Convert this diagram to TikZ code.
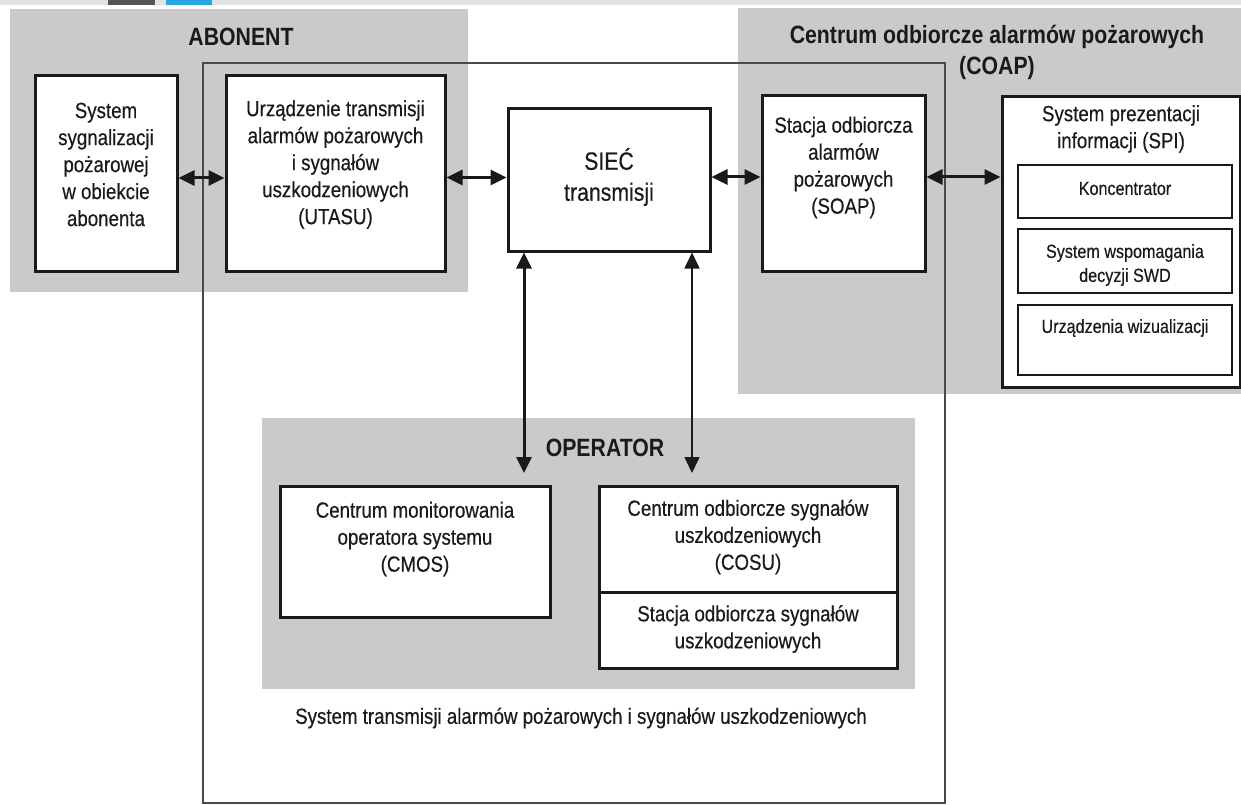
\documentclass[tikz,border=0pt]{standalone}
\usepackage{fontspec}
\setmainfont{Liberation Sans}[FakeStretch=0.85,UprightFeatures={FakeBold=0.4}]
\usetikzlibrary{arrows.meta}
\definecolor{panel}{HTML}{C9CACC}
\definecolor{ink}{HTML}{1A1A1A}
\definecolor{framegray}{HTML}{4A4A4A}
\definecolor{tabdark}{HTML}{555555}
\definecolor{tabblue}{HTML}{2AA7E3}
\definecolor{stripgray}{HTML}{E3E3E3}

\begin{document}
\begin{tikzpicture}[x=1pt,y=-1pt,
  area/.style={fill=panel,draw=none,inner sep=0pt},
  box/.style={draw=ink,line width=3pt,fill=white,inner sep=0pt},
  subbox/.style={draw=ink,line width=2.6pt,fill=white,inner sep=0pt},
  txt/.style={align=center,text=ink,font=\fontsize{22}{27}\selectfont,inner sep=0pt},
  small/.style={align=center,text=ink,font=\fontsize{19}{24}\selectfont,inner sep=0pt},
  head/.style={align=center,text=ink,font=\bfseries\fontsize{25}{31}\selectfont,inner sep=0pt},
  link/.style={draw=ink,line width=3pt,{Triangle[length=16pt,width=15pt]}-{Triangle[length=16pt,width=15pt]}},
  ]
% canvas
\fill[white] (0,0) rectangle (1241,805);
\useasboundingbox (0,0) rectangle (1241,805);
\fill[stripgray] (0,0) rectangle (1241,5);
\fill[tabdark] (108,0) rectangle (155,5);
\fill[tabblue] (166,0) rectangle (212,5);

% grey areas
\node[area,minimum width=458pt,minimum height=283pt] (abonent) at (239,150.5) {};
\node[area,minimum width=503pt,minimum height=385pt] (coap) at (989.5,201) {};
\node[area,minimum width=653pt,minimum height=271pt] (operator) at (588.5,553.5) {};

% frame of the transmission system
\node[draw=framegray,line width=2.8pt,inner sep=0pt,minimum width=742pt,minimum height=740pt] (frame) at (574,433) {};

% area titles
\node[head] (abonent-t) at (241,37) {ABONENT};
\node[head] (coap-t) at (997,52) {Centrum odbiorcze alarmów pożarowych\\(COAP)};
\node[head] (operator-t) at (605,448) {OPERATOR};

% boxes
\node[box,minimum width=142pt,minimum height=195pt] (sys) at (106,173.5) {};
\node[box,minimum width=219pt,minimum height=195pt] (utasu) at (335.5,173.5) {};
\node[box,minimum width=202pt,minimum height=142pt] (siec) at (609,180) {};
\node[box,minimum width=163pt,minimum height=175pt] (soap) at (843.5,183.5) {};
\node[box,minimum width=238pt,minimum height=290pt] (spi) at (1121,242) {};
\node[subbox,minimum width=214pt,minimum height=53pt] (konc) at (1125,191.5) {};
\node[subbox,minimum width=214pt,minimum height=64pt] (swd) at (1125,261) {};
\node[subbox,minimum width=214pt,minimum height=70pt] (wiz) at (1125,340) {};
\node[box,minimum width=270pt,minimum height=131pt] (cmos) at (415,551.5) {};
\node[box,minimum width=298pt,minimum height=106pt] (cosu) at (748,539) {};
\node[box,minimum width=298pt,minimum height=76pt] (sosu) at (748,630) {};

% box texts
\node[txt] (sys-t) at (sys.center) [yshift=9pt] {System\\sygnalizacji\\pożarowej\\w obiekcie\\abonenta};
\node[txt] (utasu-t) at (utasu.center) [yshift=9pt] {Urządzenie transmisji\\alarmów pożarowych\\i sygnałów\\uszkodzeniowych\\(UTASU)};
\node[txt,font=\fontsize{25}{31}\selectfont] (siec-t) at (siec.center) [yshift=3pt] {SIEĆ\\transmisji};
\node[txt] (soap-t) at (soap.center) [yshift=16pt] {Stacja odbiorcza\\alarmów\\pożarowych\\(SOAP)};
\node[txt] (spi-t) at (1121,129) {System prezentacji\\informacji (SPI)};
\node[small] (konc-t) at (konc.center) [yshift=3pt] {Koncentrator};
\node[small] (swd-t) at (swd.center) [yshift=-4pt] {System wspomagania\\decyzji SWD};
\node[small] (wiz-t) at (wiz.center) [yshift=12pt] {Urządzenia wizualizacji};
\node[txt] (cmos-t) at (415,539) {Centrum monitorowania\\operatora systemu\\(CMOS)};
\node[txt] (cosu-t) at (748,537) {Centrum odbiorcze sygnałów\\uszkodzeniowych\\(COSU)};
\node[txt] (sosu-t) at (748,629) {Stacja odbiorcza sygnałów\\uszkodzeniowych};
\node[txt] (caption) at (581,718) {System transmisji alarmów pożarowych i sygnałów uszkodzeniowych};

% horizontal links
\coordinate (h1) at ([yshift=-4.5pt]sys.east);
\draw[link] (h1) -- (h1 -| utasu.west);
\coordinate (h2) at ([yshift=-4pt]utasu.east);
\draw[link] (h2) -- (h2 -| siec.west);
\coordinate (h3) at ([yshift=3pt]siec.east);
\draw[link] (h3) -- (h3 -| soap.west);
\coordinate (h4) at ([yshift=6.5pt]soap.east);
\draw[link] (h4) -- (h4 -| spi.west);

% vertical links to the operator
\coordinate (opL) at (524,473);
\coordinate (opR) at (692,473);
\draw[link] (opL |- siec.south) -- (opL);
\draw[link,line width=1.6pt] (opR |- siec.south) -- (opR);
\end{tikzpicture}
\end{document}
